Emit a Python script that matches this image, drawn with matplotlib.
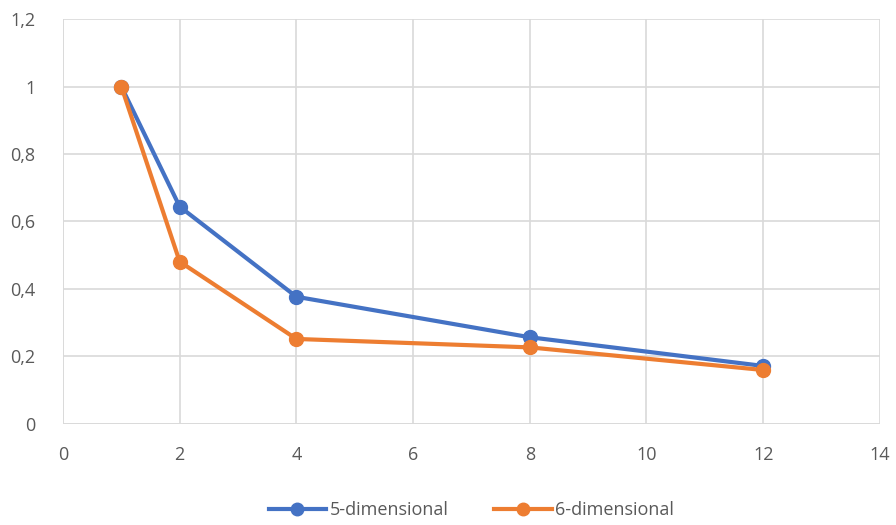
import matplotlib.pyplot as plt
from matplotlib.ticker import FuncFormatter

x = [1, 2, 4, 8, 12]
dim5 = [1.0, 0.644, 0.377, 0.257, 0.172]
dim6 = [1.0, 0.481, 0.252, 0.227, 0.160]

plt.rcParams['font.family'] = ['Open Sans', 'DejaVu Sans']

fig = plt.figure(figsize=(8.96, 5.25), dpi=100)
ax = fig.add_axes([0.0703, 0.1924, 0.9117, 0.7714])

ax.plot(x, dim5, "-o", color="#4472C4", lw=3, ms=10, label="5-dimensional", zorder=3)
ax.plot(x, dim6, "-o", color="#ED7D31", lw=3, ms=10, label="6-dimensional", zorder=4)

ax.set_xlim(0, 14)
ax.set_ylim(0, 1.2)
ax.set_xticks(range(0, 15, 2))
ax.set_yticks([0, 0.2, 0.4, 0.6, 0.8, 1.0, 1.2])
ax.yaxis.set_major_formatter(FuncFormatter(lambda v, p: ("%g" % round(v, 1)).replace(".", ",")))
ax.grid(True, color="#D9D9D9", lw=1.2)
ax.set_axisbelow(True)
for s in ax.spines.values():
    s.set_visible(False)
ax.axhline(0, color="#D9D9D9", lw=1.2, zorder=1)
ax.axvline(0, color="#D9D9D9", lw=1.2, zorder=1)
ax.tick_params(length=0, labelsize=13, colors="#595959")
ax.tick_params(axis="x", pad=16)
ax.tick_params(axis="y", pad=20)

ax.legend(loc="upper center", bbox_to_anchor=(0.5, -0.15), ncol=2, frameon=False,
          fontsize=13, labelcolor="#595959", handlelength=3.2, handletextpad=0.2,
          columnspacing=2.5, markerscale=0.9)

fig.savefig("out.png", dpi=100)
